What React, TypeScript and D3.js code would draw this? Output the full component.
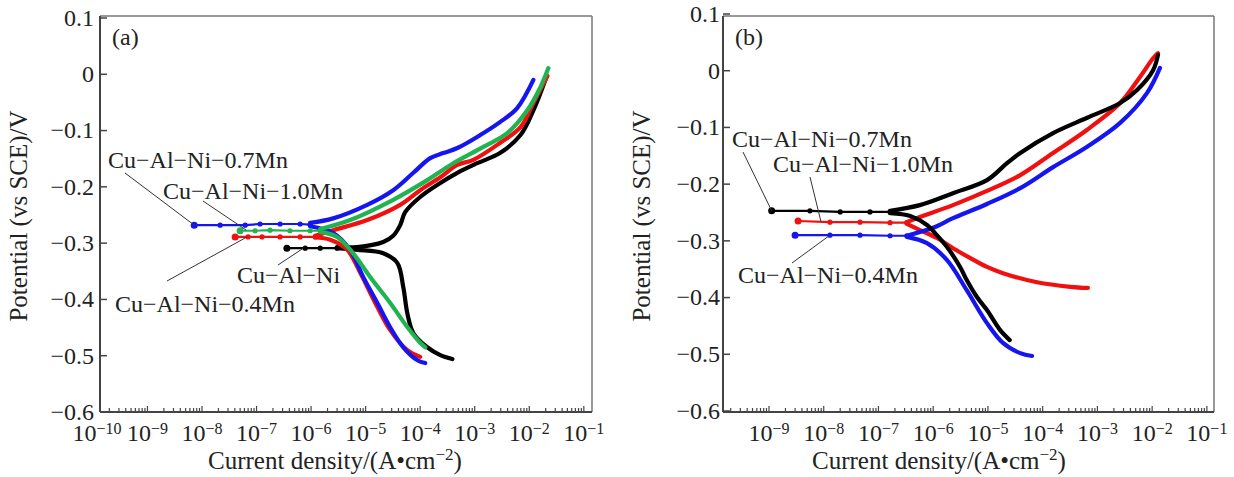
import React from 'react';
import * as d3 from 'd3';

type Pt = [number, number]; // [current density A/cm2, potential V]

const FONT = '"Liberation Serif", "Times New Roman", serif';
const BLACK = '#000000';
const RED = '#f01010';
const BLUE = '#1515f0';
const GREEN = '#1fb450';

// tick values
const potentialTicks = [0.1, 0, -0.1, -0.2, -0.3, -0.4, -0.5, -0.6];
const decadeExps = [-10, -9, -8, -7, -6, -5, -4, -3, -2, -1];

// ---- panel (a) ----
const aNiCath: Pt[] = [[3.9e-4, -0.506], [2.34e-4, -0.499], [1.35e-4, -0.485], [7.5e-5, -0.46], [5.8e-5, -0.424], [4.9e-5, -0.378], [3.8e-5, -0.335], [2.1e-5, -0.318], [7.0e-6, -0.312], [3.0e-6, -0.309]];
const aNiFlat: Pt[] = [[3.0e-6, -0.309], [1.47e-6, -0.309], [7.8e-7, -0.309], [3.6e-7, -0.309]];
const aNiAnod: Pt[] = [[3.0e-6, -0.307], [7.0e-6, -0.307], [2.1e-5, -0.298], [3.2e-5, -0.287], [4.3e-5, -0.268], [5.3e-5, -0.245], [1.0e-4, -0.218], [2.34e-4, -0.193], [4.8e-4, -0.175], [1.11e-3, -0.158], [2.9e-3, -0.14], [6.9e-3, -0.108], [1.19e-2, -0.064], [1.97e-2, -0.01]];

const a07Cath: Pt[] = [[1.24e-4, -0.513], [8.9e-5, -0.508], [4.9e-5, -0.485], [2.8e-5, -0.449], [1.63e-5, -0.406], [9.0e-6, -0.36], [5.2e-6, -0.312], [2.54e-6, -0.282], [9.6e-7, -0.27]];
const a07Flat: Pt[] = [[9.6e-7, -0.267], [6.3e-7, -0.266], [2.7e-7, -0.266], [1.16e-7, -0.266], [6.2e-8, -0.268], [2.15e-8, -0.268], [7.2e-9, -0.268]];
const a07Anod: Pt[] = [[9.6e-7, -0.264], [2.54e-6, -0.256], [1.07e-5, -0.232], [3.2e-5, -0.206], [7.5e-5, -0.175], [1.53e-4, -0.149], [2.65e-4, -0.14], [4.8e-4, -0.131], [1.26e-3, -0.108], [2.9e-3, -0.085], [6.0e-3, -0.06], [1.19e-2, -0.01]];

const a10Cath: Pt[] = [[1.24e-4, -0.485], [1.0e-4, -0.477], [5.8e-5, -0.449], [2.8e-5, -0.406], [1.21e-5, -0.36], [5.9e-6, -0.318], [3.0e-6, -0.289], [1.47e-6, -0.28]];
const a10Flat: Pt[] = [[1.47e-6, -0.278], [9.6e-7, -0.278], [4.1e-7, -0.278], [1.77e-7, -0.277], [9.4e-8, -0.278], [5.0e-8, -0.278]];
const a10Anod: Pt[] = [[1.47e-6, -0.275], [5.2e-6, -0.259], [3.2e-5, -0.223], [1.35e-4, -0.188], [4.05e-4, -0.158], [1.44e-3, -0.129], [4.0e-3, -0.104], [9.2e-3, -0.064], [1.6e-2, -0.023], [2.24e-2, 0.011]];

const a04Cath: Pt[] = [[1.0e-4, -0.502], [5.8e-5, -0.49], [2.8e-5, -0.454], [1.63e-5, -0.413], [8.0e-6, -0.353], [4.6e-6, -0.312], [2.24e-6, -0.294], [1.19e-6, -0.29]];
const a04Flat: Pt[] = [[1.19e-6, -0.289], [6.3e-7, -0.289], [2.7e-7, -0.289], [1.26e-7, -0.289], [7.0e-8, -0.289], [4.05e-8, -0.289]];
const a04Anod: Pt[] = [[1.19e-6, -0.287], [2.54e-6, -0.277], [1.07e-5, -0.259], [4.3e-5, -0.232], [1.0e-4, -0.206], [2.34e-4, -0.183], [4.8e-4, -0.161], [9.4e-4, -0.152], [2.9e-3, -0.122], [6.9e-3, -0.094], [1.19e-2, -0.051], [2.15e-2, -0.003]];

// ---- panel (b) ----
const b07Cath: Pt[] = [[2.5e-5, -0.475], [1.66e-5, -0.457], [9.6e-6, -0.422], [6.3e-6, -0.399], [4.1e-6, -0.369], [3.1e-6, -0.346], [1.79e-6, -0.311], [1.17e-6, -0.29], [7.7e-7, -0.272], [3.8e-7, -0.256], [1.63e-7, -0.251]];
const b07Flat: Pt[] = [[1.63e-7, -0.249], [7.0e-8, -0.249], [2.0e-8, -0.249], [5.6e-9, -0.247], [1.12e-9, -0.247]];
const b07Anod: Pt[] = [[1.63e-7, -0.247], [5.7e-7, -0.237], [2.3e-6, -0.216], [9.6e-6, -0.193], [2.23e-5, -0.163], [3.9e-5, -0.145], [1.55e-4, -0.11], [6.5e-4, -0.083], [2.6e-3, -0.057], [5.3e-3, -0.034], [1.04e-2, 0.001], [1.28e-2, 0.028]];

const b10Cath: Pt[] = [[6.7e-4, -0.383], [3.2e-4, -0.381], [7.9e-5, -0.373], [1.88e-5, -0.357], [9.6e-6, -0.346], [4.7e-6, -0.33], [2.3e-6, -0.313], [1.17e-6, -0.295], [5.7e-7, -0.281], [3.3e-7, -0.27]];
const b10Flat: Pt[] = [[3.3e-7, -0.268], [1.63e-7, -0.268], [4.6e-8, -0.267], [1.3e-8, -0.267], [3.4e-9, -0.265]];
const b10Anod: Pt[] = [[3.3e-7, -0.267], [5.7e-7, -0.258], [2.3e-6, -0.237], [9.6e-6, -0.212], [3.9e-5, -0.184], [1.55e-4, -0.145], [6.5e-4, -0.104], [2.6e-3, -0.057], [6.0e-3, -0.011], [1.04e-2, 0.022], [1.28e-2, 0.031]];

const b04Cath: Pt[] = [[6.4e-5, -0.503], [3.9e-5, -0.498], [1.88e-5, -0.48], [9.6e-6, -0.445], [4.1e-6, -0.387], [1.79e-6, -0.334], [7.7e-7, -0.304], [3.3e-7, -0.293]];
const b04Flat: Pt[] = [[3.3e-7, -0.291], [1.63e-7, -0.291], [4.6e-8, -0.29], [1.3e-8, -0.29], [3.0e-9, -0.29]];
const b04Anod: Pt[] = [[3.3e-7, -0.291], [9.9e-7, -0.277], [2.3e-6, -0.26], [9.6e-6, -0.235], [3.9e-5, -0.207], [1.55e-4, -0.17], [6.5e-4, -0.134], [2.6e-3, -0.092], [8.1e-3, -0.039], [1.39e-2, 0.005]];

interface Series { color: string; cath: Pt[]; flat: Pt[]; anod: Pt[] }
interface Note { text: string; tx: number; ty: number; lx: number; ly: number; at: Pt }

const panels = [
  {
    tag: '(a)',
    left: 100, right: 592, top: 16, bottom: 412, yTop: 18, yBottom: 412,
    xMin: Math.pow(10, -9.87), xMax: Math.pow(10, -0.85),
    firstLabel: -10,
    yLabelX: 94, yTitleX: 27, xTitleX: 335,
    series: [
      { color: BLACK, cath: aNiCath, flat: aNiFlat, anod: aNiAnod },
      { color: RED, cath: a04Cath, flat: a04Flat, anod: a04Anod },
      { color: BLUE, cath: a07Cath, flat: a07Flat, anod: a07Anod },
      { color: GREEN, cath: a10Cath, flat: a10Flat, anod: a10Anod },
    ] as Series[],
    notes: [
      { text: 'Cu−Al−Ni−0.7Mn', tx: 108, ty: 168, lx: 125, ly: 173, at: [7.2e-9, -0.268] },
      { text: 'Cu−Al−Ni−1.0Mn', tx: 163, ty: 199, lx: 203, ly: 201, at: [6.5e-8, -0.277] },
      { text: 'Cu−Al−Ni−0.4Mn', tx: 115, ty: 312, lx: 167, ly: 281, at: [6.7e-8, -0.289] },
      { text: 'Cu−Al−Ni', tx: 237, ty: 283, lx: 278, ly: 265, at: [7.2e-7, -0.309] },
    ] as Note[],
  },
  {
    tag: '(b)',
    left: 723, right: 1214, top: 16, bottom: 412, yTop: 14, yBottom: 411,
    xMin: Math.pow(10, -9.84), xMax: Math.pow(10, -0.87),
    firstLabel: -9,
    yLabelX: 720, yTitleX: 650, xTitleX: 939,
    series: [
      { color: RED, cath: b10Cath, flat: b10Flat, anod: b10Anod },
      { color: BLUE, cath: b04Cath, flat: b04Flat, anod: b04Anod },
      { color: BLACK, cath: b07Cath, flat: b07Flat, anod: b07Anod },
    ] as Series[],
    notes: [
      { text: 'Cu−Al−Ni−0.7Mn', tx: 732, ty: 147, lx: 743, ly: 152, at: [1.12e-9, -0.247] },
      { text: 'Cu−Al−Ni−1.0Mn', tx: 773, ty: 172, lx: 810, ly: 177, at: [8.9e-9, -0.266] },
      { text: 'Cu−Al−Ni−0.4Mn', tx: 738, ty: 283, lx: 792, ly: 263, at: [1.3e-8, -0.29] },
    ] as Note[],
  },
];

type Panel = typeof panels[number];

function PolPanel({ p }: { p: Panel }) {
  const x = d3.scaleLog().domain([p.xMin, p.xMax]).range([p.left, p.right]);
  const y = d3.scaleLinear().domain([-0.6, 0.1]).range([p.yBottom, p.yTop]);
  const line = d3.line<Pt>().x(d => x(d[0])).y(d => y(d[1])).curve(d3.curveCatmullRom.alpha(0.5));
  const flatLine = d3.line<Pt>().x(d => x(d[0])).y(d => y(d[1]));

  // minor + major ticks on the log axis
  const logTicks: { v: number; major: boolean }[] = [];
  decadeExps.forEach(e => {
    for (let k = 1; k <= 9; k++) {
      const v = k * Math.pow(10, e);
      if (v >= p.xMin && v <= p.xMax) logTicks.push({ v, major: k === 1 });
    }
  });
  const labelled = decadeExps.filter(e => e >= p.firstLabel);

  return (
    <g>
      {/* frame */}
      <line x1={p.left} y1={p.top} x2={p.right} y2={p.top} stroke="#777" strokeWidth={1.5} />
      <line x1={p.right} y1={p.top} x2={p.right} y2={p.bottom} stroke="#777" strokeWidth={1.5} />
      <line x1={p.left} y1={p.top} x2={p.left} y2={p.bottom} stroke="#444" strokeWidth={2} />
      <line x1={p.left} y1={p.bottom} x2={p.right} y2={p.bottom} stroke="#444" strokeWidth={2} />

      {/* y ticks */}
      {potentialTicks.map(t => (
        <g key={t}>
          <line x1={p.left} x2={p.left + 7} y1={y(t)} y2={y(t)} stroke="#444" strokeWidth={1.5} />
          <text x={p.yLabelX} y={y(t)} dy="0.33em" textAnchor="end" fontSize={24} fill="#222">
            {t === 0 ? '0' : (t < 0 ? '−' : '') + Math.abs(t).toFixed(1)}
          </text>
        </g>
      ))}

      {/* x ticks */}
      {logTicks.map((t, i) => (
        <line key={i} x1={x(t.v)} x2={x(t.v)} y1={p.bottom} y2={p.bottom - (t.major ? 6 : 4)} stroke="#444" strokeWidth={1.2} />
      ))}
      {labelled.map(e => (
        <text key={e} x={x(Math.pow(10, e)) + (e === -10 ? 4 : 0)} y={441} textAnchor="middle" fontSize={24} fill="#222">
          10<tspan fontSize={16} dy={-7}>{'−' + Math.abs(e)}</tspan>
        </text>
      ))}

      {/* axis titles */}
      <text transform={`translate(${p.yTitleX},${(p.top + p.bottom) / 2 + 2}) rotate(-90)`} textAnchor="middle" fontSize={25} fill="#222">
        Potential (vs SCE)/V
      </text>
      <text x={p.xTitleX} y={469} textAnchor="middle" fontSize={25} fill="#222">
        Current density/(A•cm<tspan fontSize={17} dy={-9}>−2</tspan><tspan dy={9}>)</tspan>
      </text>
      <text x={p.left + 12} y={45} fontSize={24} fill="#222">{p.tag}</text>

      {/* curves */}
      {p.series.map((s, i) => (
        <g key={i}>
          <path d={flatLine(s.flat) || ''} fill="none" stroke={s.color} strokeWidth={2.2} />
          {s.flat.map((d, j) => (
            <circle key={j} cx={x(d[0])} cy={y(d[1])} r={j === s.flat.length - 1 ? 3.5 : 2.6} fill={s.color} />
          ))}
          <path d={line(s.cath) || ''} fill="none" stroke={s.color} strokeWidth={4.2} strokeLinecap="round" strokeLinejoin="round" />
          <path d={line(s.anod) || ''} fill="none" stroke={s.color} strokeWidth={4.2} strokeLinecap="round" strokeLinejoin="round" />
        </g>
      ))}

      {/* labels with leader lines */}
      {p.notes.map((n, i) => (
        <g key={i}>
          <line x1={n.lx} y1={n.ly} x2={x(n.at[0])} y2={y(n.at[1])} stroke="#333" strokeWidth={1} />
          <text x={n.tx} y={n.ty} fontSize={24} fill="#222">{n.text}</text>
        </g>
      ))}
    </g>
  );
}

export default function App() {
  return (
    <svg width={1234} height={477} viewBox="0 0 1234 477"
      style={{ position: 'absolute', left: 0, top: 0, background: '#fff', fontFamily: FONT }}>
      <rect width={1234} height={477} fill="#fff" />
      {panels.map(p => <PolPanel key={p.tag} p={p} />)}
    </svg>
  );
}
